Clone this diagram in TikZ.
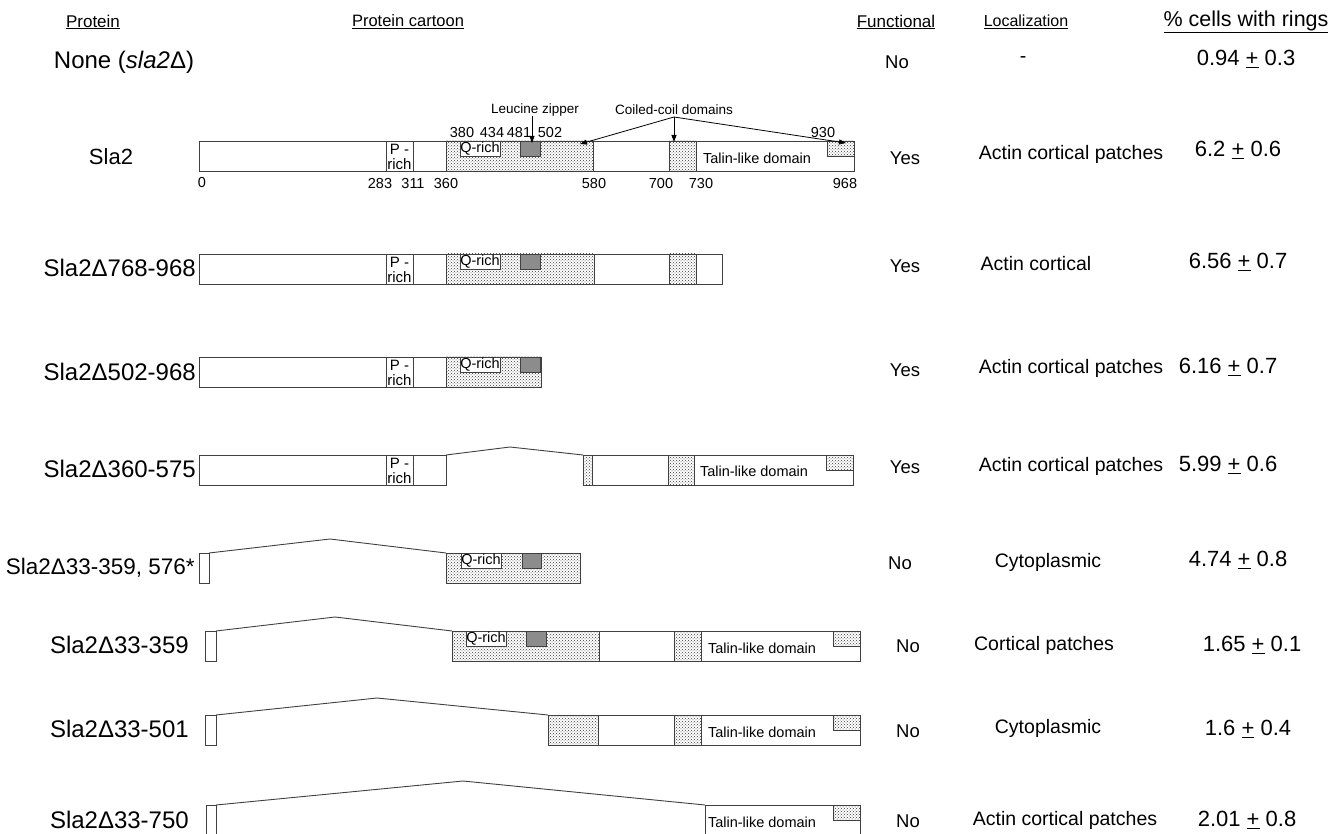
\documentclass[tikz,border=0pt]{standalone}
\usepackage{fontspec}
\setmainfont{Liberation Sans}
\usetikzlibrary{patterns,arrows.meta}
\definecolor{edge}{HTML}{404040}
\definecolor{lzgray}{HTML}{8C8C8C}
\definecolor{dotc}{HTML}{3A3A3A}
\begin{document}
\begin{tikzpicture}[x=1pt,y=-1pt,
  hdr/.style={font=\fontsize{17}{20}\selectfont, inner sep=0pt},
  lbl/.style={font=\fontsize{24}{27}\selectfont, inner sep=0pt},
  fun/.style={font=\fontsize{18.5}{22}\selectfont, inner sep=0pt},
  loc/.style={font=\fontsize{19.5}{23}\selectfont, inner sep=0pt},
  val/.style={font=\fontsize{22}{26}\selectfont, inner sep=0pt},
  small/.style={font=\fontsize{14.5}{15}\selectfont, inner sep=0pt},
  ann/.style={font=\fontsize{13.5}{15}\selectfont, inner sep=0pt},
  bar/.style={draw=edge, line width=0.9pt, fill=white},
  dotr/.style={draw=edge, line width=0.9pt, pattern=crosshatch dots, pattern color=dotc},
  lzr/.style={draw=edge, line width=0.9pt, fill=lzgray},
  qbox/.style={draw=edge, line width=0.8pt, fill=white, inner sep=0pt, minimum width=40pt, minimum height=15pt, font=\fontsize{14.5}{15}\selectfont},
  prich/.style={align=center, inner sep=0pt, font=\fontsize{15}{15}\selectfont},
  splice/.style={draw=edge, line width=0.9pt},
  arr/.style={draw=black, line width=0.8pt, -{Triangle[length=7pt,width=5pt]}}
]
\useasboundingbox (0,0) rectangle (1334,834);
\clip (0,0) rectangle (1334,834);
\fill[white] (0,0) rectangle (1334,834);

% headers
\node[hdr] (h1) at (93,22) {\underline{Protein}};
\node[hdr,font=\fontsize{16.5}{20}\selectfont] (h2) at (408,22) {\underline{Protein cartoon}};
\node[hdr] (h3) at (896,22) {\underline{Functional}};
\node[hdr,font=\fontsize{16}{20}\selectfont] (h4) at (1026,22) {\underline{Localization}};
\node[hdr,font=\fontsize{21.5}{25}\selectfont] (h5) at (1246,22) {\underline{\% cells with rings}};

% row labels
\node[lbl] (p0) at (124,62) {None (\textit{sla2}Δ)};
\node[lbl,font=\fontsize{22}{25}\selectfont] (p1) at (111,157) {Sla2};
\node[lbl,anchor=east] (p2) at (196,268) {Sla2Δ768-968};
\node[lbl,anchor=east] (p3) at (196,372) {Sla2Δ502-968};
\node[lbl,anchor=east] (p4) at (196,469) {Sla2Δ360-575};
\node[lbl,anchor=east,font=\fontsize{22.5}{25}\selectfont] (p5) at (195,568) {Sla2Δ33-359, 576*};
\node[lbl,anchor=east] (p6) at (189,645) {Sla2Δ33-359};
\node[lbl,anchor=east] (p7) at (189,729) {Sla2Δ33-501};
\node[lbl,anchor=east] (p8) at (189,820) {Sla2Δ33-750};

% functional
\node[fun] (f0) at (897,62) {No};
\node[fun] (f1) at (905,158) {Yes};
\node[fun] (f2) at (905,266) {Yes};
\node[fun] (f3) at (905,370) {Yes};
\node[fun] (f4) at (905,467) {Yes};
\node[fun] (f5) at (900,563) {No};
\node[fun] (f6) at (908,646) {No};
\node[fun] (f7) at (908,731) {No};
\node[fun] (f8) at (908,821) {No};

% localization
\node[loc] (l0) at (1023,60) {-};
\node[loc] (l1) at (1071,154) {Actin cortical patches};
\node[loc] (l2) at (1036,264) {Actin cortical};
\node[loc] (l3) at (1071,368) {Actin cortical patches};
\node[loc] (l4) at (1071,466) {Actin cortical patches};
\node[loc] (l5) at (1048,562) {Cytoplasmic};
\node[loc] (l6) at (1044,645) {Cortical patches};
\node[loc] (l7) at (1048,728) {Cytoplasmic};
\node[loc] (l8) at (1065,820) {Actin cortical patches};

% values
\node[val] (v0) at (1246,59) {0.94 \underline{+} 0.3};
\node[val] (v1) at (1238,150) {6.2 \underline{+} 0.6};
\node[val] (v2) at (1238,262) {6.56 \underline{+} 0.7};
\node[val] (v3) at (1228,367) {6.16 \underline{+} 0.7};
\node[val] (v4) at (1228,465) {5.99 \underline{+} 0.6};
\node[val] (v5) at (1238,560) {4.74 \underline{+} 0.8};
\node[val] (v6) at (1252,645) {1.65 \underline{+} 0.1};
\node[val] (v7) at (1248,729) {1.6 \underline{+} 0.4};
\node[val] (v8) at (1247,820) {2.01 \underline{+} 0.8};

% ---------- Row 1: Sla2 ----------
\draw[bar] (199,141) rectangle (854,171);
\draw[bar] (386,141) rectangle (413,171);
\node[prich] (pr1) at (399.5,157) {P -\\rich};
\draw[dotr] (446,141) rectangle (593,171);
\node[qbox,anchor=north] (q1) at (480,141) {Q-rich};
\draw[lzr] (520,141) rectangle (540,156);
\coordinate (lz1) at (532,141);
\draw[dotr] (669,141) rectangle (696,171);
\node[small] (t1) at (757,158) {Talin-like domain};
\draw[dotr] (827,141) rectangle (854,156);
\node[small] at (462,133) {380};
\node[small] at (492,133) {434};
\node[small] at (519,133) {481};
\node[small] at (550,133) {502};
\node[small] at (823,133) {930};
\node[small] at (202,183) {0};
\node[small] at (380,184) {283};
\node[small] at (413,184) {311};
\node[small] at (446,184) {360};
\node[small] at (594,184) {580};
\node[small] at (661,184) {700};
\node[small] at (701,184) {730};
\node[small] at (845,184) {968};
% annotations
\node[ann] (lzl) at (535,110) {Leucine zipper};
\node[ann] (ccl) at (674,110) {Coiled-coil domains};
\coordinate (ccf) at (674,117);
\coordinate (cc1) at (580,144);
\coordinate (cc2) at (674,142);
\coordinate (cc3) at (846,143);
\draw[arr] (lzl.south -| lz1) -- (532,143);
\draw[arr] (ccf) -- (cc1);
\draw[arr] (ccf) -- (cc2);
\draw[arr] (ccf) -- (cc3);

% ---------- Row 2: Sla2D768-968 ----------
\draw[bar] (199,254) rectangle (722,284);
\draw[bar] (386,254) rectangle (413,284);
\node[prich] at (399.5,270) {P -\\rich};
\draw[dotr] (446,254) rectangle (594,284);
\node[qbox,anchor=north] at (480,254) {Q-rich};
\draw[lzr] (520,254) rectangle (540,269);
\draw[dotr] (669,254) rectangle (696,284);

% ---------- Row 3: Sla2D502-968 ----------
\draw[bar] (199,357) rectangle (541,387);
\draw[bar] (386,357) rectangle (413,387);
\node[prich] at (399.5,373) {P -\\rich};
\draw[dotr] (446,357) rectangle (541,387);
\node[qbox,anchor=north] at (480,357) {Q-rich};
\draw[lzr] (520,357) rectangle (540,372);

% ---------- Row 4: Sla2D360-575 ----------
\draw[bar] (199,455) rectangle (446,485);
\draw[bar] (386,455) rectangle (413,485);
\node[prich] at (399.5,471) {P -\\rich};
\draw[splice] (446,455) -- (510,447) -- (583,455);
\draw[bar] (583,455) rectangle (853,485);
\draw[dotr] (583,455) rectangle (592,485);
\draw[dotr] (668,455) rectangle (694,485);
\node[small] at (754,471) {Talin-like domain};
\draw[dotr] (826,455) rectangle (853,470);

% ---------- Row 5: Sla2D33-359, 576* ----------
\draw[bar] (199,553) rectangle (209,583);
\draw[splice] (209,553) -- (330,539) -- (446,553);
\draw[dotr] (446,553) rectangle (580,583);
\node[qbox,anchor=north] at (481,553) {Q-rich};
\draw[lzr] (522,553) rectangle (541,568);

% ---------- Row 6: Sla2D33-359 ----------
\draw[bar] (205,631) rectangle (216,661);
\draw[splice] (216,631) -- (335,617) -- (452,631);
\draw[bar] (452,631) rectangle (860,661);
\draw[dotr] (452,631) rectangle (599,661);
\node[qbox,anchor=north] at (486,631) {Q-rich};
\draw[lzr] (526,631) rectangle (546,646);
\draw[dotr] (674,631) rectangle (701,661);
\node[small] at (762,648) {Talin-like domain};
\draw[dotr] (833,631) rectangle (860,646);

% ---------- Row 7: Sla2D33-501 ----------
\draw[bar] (205,715) rectangle (216,745);
\draw[splice] (216,715) -- (377,698) -- (548,715);
\draw[bar] (548,715) rectangle (860,745);
\draw[dotr] (548,715) rectangle (598,745);
\draw[dotr] (674,715) rectangle (701,745);
\node[small] at (762,732) {Talin-like domain};
\draw[dotr] (833,715) rectangle (860,730);

% ---------- Row 8: Sla2D33-750 ----------
\draw[bar] (206,805) rectangle (216,840);
\draw[splice] (216,805) -- (463,781) -- (705,805);
\draw[bar] (705,805) rectangle (860,840);
\node[small] at (762,822) {Talin-like domain};
\draw[dotr] (833,805) rectangle (860,820);
\end{tikzpicture}
\end{document}
